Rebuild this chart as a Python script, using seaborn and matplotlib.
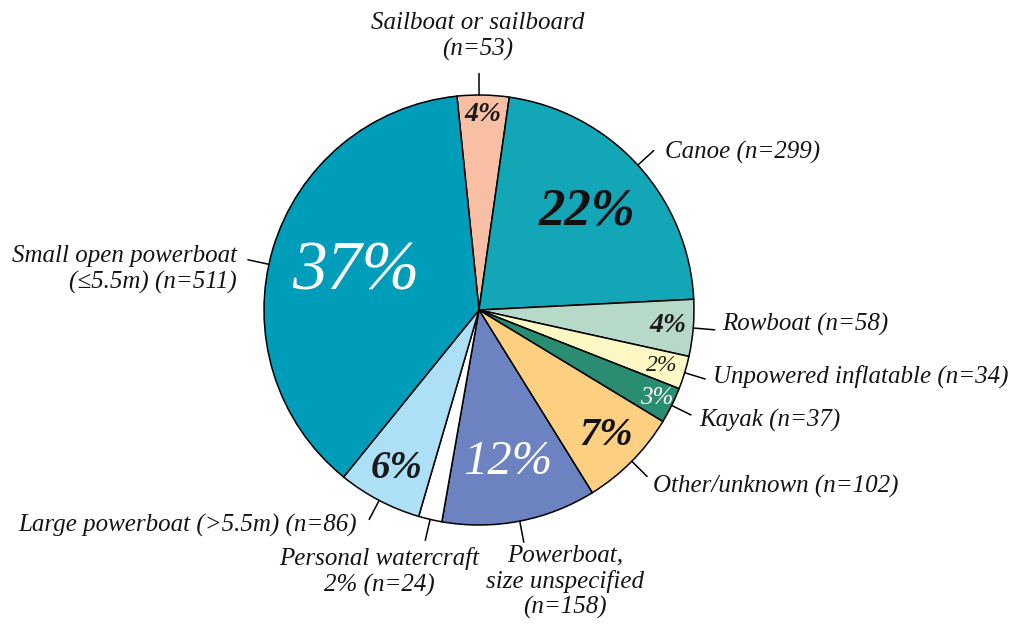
import numpy as np
import matplotlib.pyplot as plt
import seaborn as sns

# --- DATA ---
categories = ["Sailboat or sailboard", "Canoe", "Rowboat", "Unpowered inflatable", "Kayak",
              "Other/unknown", "Powerboat, size unspecified", "Personal watercraft",
              "Large powerboat (>5.5m)", "Small open powerboat (≤5.5m)"]
counts = [53, 299, 58, 34, 37, 102, 158, 24, 86, 511]
pct_labels = ["4%", "22%", "4%", "2%", "3%", "7%", "12%", "", "6%", "37%"]
outer_labels = ["Sailboat or sailboard\n(n=53)", "Canoe (n=299)", "Rowboat (n=58)",
                "Unpowered inflatable (n=34)", "Kayak (n=37)", "Other/unknown (n=102)",
                "Powerboat,\nsize unspecified\n(n=158)", "Personal watercraft\n2% (n=24)",
                "Large powerboat (>5.5m) (n=86)", "Small open powerboat\n(≤5.5m) (n=511)"]
colors = ["#F8BFA5", "#13A6B6", "#B6D9C8", "#FFF8C4", "#2A8C71",
          "#FDD081", "#6C82C1", "#FFFFFF", "#ADE0F7", "#009DBB"]

# --- STYLE (labels inside the slices) ---
pct_dist = [0.91, 0.68, 0.88, 0.89, 0.92, 0.83, 0.72, 0.8, 0.83, 0.60]
pct_size = [20, 38, 20, 17, 18, 29, 35, 10, 28, 50]
pct_color = ["#1a1a1a", "#111111", "#1a1a1a", "#1a1a1a", "white",
             "#111111", "white", "black", "#1a1a1a", "white"]
pct_bold = [True, True, True, False, False, True, False, False, True, False]

# --- STYLE (outside labels: leader tweak, offsets in px, alignment) ---
lead_shift = [1.1, 0, 0, 0, 0, 0, 0, 0, 0, 4.3]
txt_off = [(-1, -13), (11, 2), (7, -5), (8, -3), (8, 5), (6, 10),
           (41, 2), (-46, 7), (-12, 6), (-11, 10)]
txt_ha = ["center", "left", "left", "left", "left", "left", "center", "center", "right", "right"]
txt_va = ["bottom", "center", "center", "center", "center", "center", "top", "top", "center", "center"]

sns.set_theme(style="white")
plt.rcParams['font.family'] = ['Liberation Serif', 'DejaVu Serif']

W, H = 1019, 630
fig = plt.figure(figsize=(W / 100, H / 100), dpi=100)
ax = fig.add_axes([0, 0, 1, 1])

cx, cy, R = 479, H - 310, 215
wedges, _ = ax.pie(counts, colors=colors, startangle=95.9, counterclock=False,
                   center=(cx, cy), radius=R,
                   wedgeprops=dict(edgecolor="black", linewidth=1.1))
ax.set_xlim(0, W)
ax.set_ylim(0, H)
ax.set_aspect("equal")
ax.axis("off")

for i, w in enumerate(wedges):
    mid = np.deg2rad((w.theta1 + w.theta2) / 2)
    # percentage inside the slice
    if pct_labels[i]:
        r = pct_dist[i] * R
        ax.text(cx + r * np.cos(mid), cy + r * np.sin(mid), pct_labels[i],
                ha="center", va="center", fontsize=pct_size[i], color=pct_color[i],
                style="italic", fontweight="bold" if pct_bold[i] else "normal")
    # leader line + category label
    a = mid + np.deg2rad(lead_shift[i])
    x0, y0 = cx + R * np.cos(a), cy + R * np.sin(a)
    x1, y1 = cx + 1.1 * R * np.cos(a), cy + 1.1 * R * np.sin(a)
    ax.plot([x0, x1], [y0, y1], color="black", lw=1.1)
    dx, dy = txt_off[i]
    ax.text(x1 + dx, y1 - dy, outer_labels[i], ha=txt_ha[i], va=txt_va[i],
            multialignment="center" if txt_ha[i] == "center" else txt_ha[i],
            fontsize=18, style="italic", color="#141414", linespacing=1.2)

fig.savefig("out.png", dpi=100)
